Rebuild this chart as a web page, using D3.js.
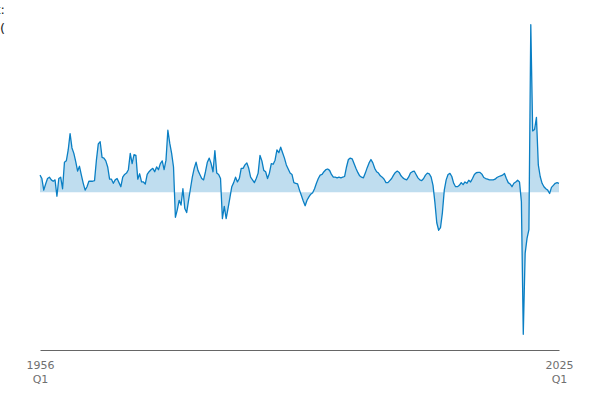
<!DOCTYPE html>
<html>
<head>
<meta charset="utf-8">
<script src="https://cdn.jsdelivr.net/npm/d3@7"></script>
<style>
  body { margin: 0; background: #fff; }
  svg { display: block; }
  svg text { font-family: "DejaVu Sans", sans-serif; }
</style>
</head>
<body>
<div id="chart"></div>
<script>
// quarters 1956 Q1 .. 2025 Q1
const START_YEAR = 1956;
const END_YEAR = 2025;
const TICK_LABELS = [["1956", "Q1"], ["2025", "Q1"]];

// % change on same quarter a year earlier
const growth = [
  2.5, 2.0, 0.3, 1.2, 2.0, 2.2, 1.8, 1.6, 1.8, -0.6,
  2.0, 2.2, 0.5, 4.4, 4.6, 6.2, 8.6, 6.5, 5.7, 4.5,
  3.1, 3.8, 2.5, 1.3, 0.3, 0.8, 1.6, 1.6, 1.6, 1.7,
  4.7, 7.1, 7.4, 5.1, 5.0, 4.6, 3.7, 1.9, 1.9, 1.3,
  1.8, 2.0, 1.4, 0.8, 2.2, 2.6, 2.8, 3.3, 5.7, 4.2,
  5.5, 5.4, 1.9, 2.7, 1.5, 1.5, 1.2, 2.6, 3.0, 3.3,
  3.5, 3.0, 3.7, 3.3, 4.2, 4.6, 3.3, 4.7, 9.1, 7.2,
  5.7, 3.7, -3.7, -2.6, -1.2, -1.9, 0.5, -2.4, -3.0, -1.2,
  0.5, 2.2, 3.5, 4.4, 3.2, 2.6, 2.0, 1.8, 3.0, 4.4,
  5.0, 4.2, 3.0, 6.1, 2.8, 2.6, 2.0, -3.9, -2.1, -3.9,
  -2.4, -0.8, 0.8, 1.4, 2.2, 1.5, 2.0, 3.5, 3.5, 4.0,
  4.3, 3.5, 2.2, 1.8, 1.4, 2.0, 2.8, 5.4, 4.6, 3.2,
  3.0, 2.0, 2.8, 4.2, 4.1, 4.7, 6.2, 5.8, 6.6, 5.8,
  5.0, 4.0, 3.4, 2.8, 2.6, 1.4, 1.3, 1.2, 0.3, -0.5,
  -1.3, -2.0, -1.2, -0.7, -0.3, -0.1, 0.5, 1.3, 2.0, 2.5,
  2.6, 3.0, 3.3, 3.4, 3.2, 2.6, 2.2, 2.2, 2.1, 2.2,
  2.1, 2.2, 2.3, 3.7, 4.8, 5.0, 4.9, 4.2, 3.5, 2.9,
  2.4, 2.2, 2.1, 2.8, 3.6, 4.3, 4.8, 4.3, 3.5, 3.0,
  2.8, 2.4, 2.2, 1.9, 1.4, 1.4, 1.7, 2.0, 2.5, 2.9,
  3.1, 2.9, 2.4, 2.1, 1.9, 1.8, 2.2, 2.8, 3.0, 3.1,
  2.6, 2.1, 1.8, 1.7, 2.0, 2.5, 2.8, 2.7, 2.2, 1.0,
  -1.5, -4.5, -5.6, -5.2, -3.0, 0.3, 1.8, 2.6, 2.75, 2.3,
  1.3, 0.8, 0.8, 1.0, 1.4, 1.1, 1.5, 1.3, 1.75, 1.5,
  2.0, 2.6, 2.85, 2.9, 2.9, 2.65, 2.15, 2.0, 1.9, 1.8,
  1.8, 1.8, 1.9, 2.15, 2.3, 2.4, 2.5, 2.75, 2.0, 1.4,
  1.2, 0.8, 1.3, 1.5, 1.75, 1.5, -1.4, -20.9, -9.0, -6.8,
  -5.5, 24.6, 9.0, 9.2, 11.0, 4.0, 2.3, 1.3, 0.8, 0.5,
  0.3, -0.2, 0.7, 1.0, 1.3, 1.4, 1.3
];

const width = 600,
      height = 400;

const data = growth.map((v, i) => ({ q: i, value: v }));

const svg = d3.select("#chart").append("svg")
  .attr("width", width)
  .attr("height", height);

const x = d3.scaleLinear()
  .domain([0, (END_YEAR - START_YEAR) * 4])
  .range([40, 559]);

const y = d3.scaleLinear()
  .domain([-23.2, 25.3])
  .range([350, 20]);

// area + line
svg.append("path")
  .datum(data)
  .attr("fill", "#0077c0")
  .attr("fill-opacity", 0.25)
  .attr("d", d3.area()
    .x(d => x(d.q))
    .y0(y(0))
    .y1(d => y(d.value)));

svg.append("path")
  .datum(data)
  .attr("fill", "none")
  .attr("stroke", "#0a7fc4")
  .attr("stroke-width", 1.3)
  .attr("stroke-linejoin", "round")
  .attr("d", d3.line()
    .x(d => x(d.q))
    .y(d => y(d.value)));

// x axis, only first and last quarter labelled
const xAxis = svg.append("g")
  .attr("transform", `translate(0,350)`)
  .call(d3.axisBottom(x).tickValues(x.domain()).tickSize(0).tickFormat(""));
xAxis.select(".domain").attr("stroke", "#666");

xAxis.selectAll(".tick").each(function(d, i) {
  const t = d3.select(this).append("text")
    .attr("fill", "#707070")
    .attr("font-family", "DejaVu Sans")
    .attr("font-size", 11)
    .attr("text-anchor", "middle");
  t.append("tspan").attr("x", 0).attr("y", 19).text(TICK_LABELS[i][0]);
  t.append("tspan").attr("x", 0).attr("y", 33).text(TICK_LABELS[i][1]);
});

// title, mostly outside the left edge
svg.append("text")
  .attr("x", 5).attr("y", 14)
  .attr("text-anchor", "end")
  .attr("font-family", "DejaVu Sans")
  .attr("font-size", 13)
  .attr("fill", "#222")
  .text("Gross domestic product:");
svg.append("text")
  .attr("x", 5).attr("y", 33)
  .attr("text-anchor", "end")
  .attr("font-family", "DejaVu Sans")
  .attr("font-size", 13)
  .attr("fill", "#222")
  .text("year on year growth (");
</script>
</body>
</html>
